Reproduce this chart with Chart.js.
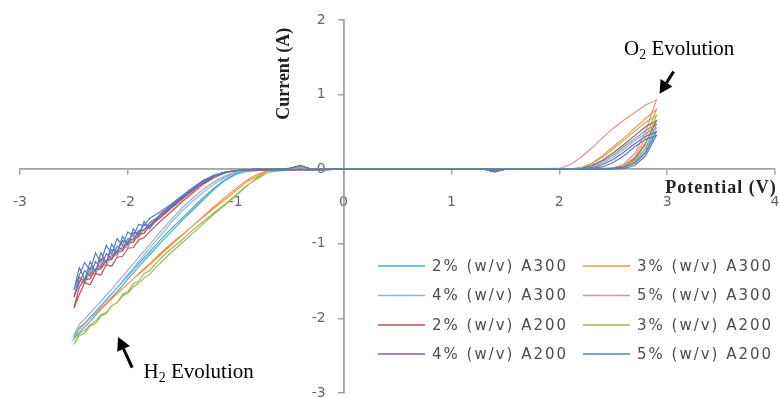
<!DOCTYPE html>
<html>
<head>
<meta charset="utf-8">
<script src="https://cdn.jsdelivr.net/npm/chart.js@4/dist/chart.umd.min.js"></script>
<style>
  html, body { margin: 0; padding: 0; background: #ffffff; }
  canvas { display: block; }
</style>
</head>
<body>
<canvas id="cv" width="779" height="398"></canvas>
<script>
// Potential sweep (V): 0 -> +2.9 (anodic), back down to -2.5 (cathodic), then return to 0
const sweepUp   = [0, 0.5, 1.0, 1.3, 1.4, 1.5, 2.0, 2.2, 2.3, 2.4, 2.5, 2.6, 2.7, 2.8, 2.9];
const sweepDown = [2.8, 2.7, 2.6, 2.5, 2.4, 2.3, 2.2, 2.1, 2.0, 1.5, 1.0, 0.5, 0, -0.3, -0.4, -0.5, -0.7,
                   -0.9, -1.0, -1.1, -1.2, -1.3, -1.4, -1.5, -1.6, -1.7, -1.8, -1.85, -1.9, -1.95, -2.0,
                   -2.05, -2.1, -2.15, -2.2, -2.25, -2.3, -2.35, -2.4, -2.45, -2.5];
const sweepBack = [-2.45, -2.4, -2.35, -2.3, -2.25, -2.2, -2.15, -2.1, -2.05, -2.0, -1.95, -1.9, -1.85, -1.8,
                   -1.7, -1.6, -1.5, -1.4, -1.3, -1.2, -1.1, -1.0, -0.9, -0.8, -0.7, -0.6, -0.5, -0.4, -0.3, 0];
const potential = [...sweepUp, ...sweepDown, ...sweepBack];

// Series names, in legend order
const seriesLabels = [
  '2% (w/v) A300', '3% (w/v) A300',
  '4% (w/v) A300', '5% (w/v) A300',
  '2% (w/v) A200', '3% (w/v) A200',
  '4% (w/v) A200', '5% (w/v) A200'
];

// Current (A) along the sweep, one array per electrolyte
const current2A300 = [
  0, 0, 0, 0, -0.03, 0, 0, 0, 0, 0, 0.01, 0.03, 0.1, 0.28, 0.6,
  0.52, 0.41, 0.3, 0.19, 0.1, 0.04, 0.01, 0, 0, 0, 0, 0, 0, -0.01, 0, -0.01, -0.01,
  -0.03, -0.07, -0.15, -0.27, -0.41, -0.55, -0.69, -0.84, -0.99, -1.15, -1.23, -1.31, -1.39, -1.47,
  -1.56, -1.64, -1.72, -1.8, -1.88, -1.96, -2.04, -2.11, -2.19, -2.27,
  -2.14, -2.07, -1.99, -1.91, -1.83, -1.75, -1.67, -1.59, -1.51, -1.43, -1.35, -1.27, -1.19, -1.11,
  -0.95, -0.8, -0.66, -0.52, -0.38, -0.25, -0.14, -0.06, -0.02, -0.01, 0, 0, 0.01, 0.04, 0, 0
];
const current3A300 = [
  0, 0, 0, 0, -0.03, 0, 0, 0, 0, 0, 0.01, 0.05, 0.16, 0.42, 0.8,
  0.68, 0.55, 0.42, 0.3, 0.18, 0.08, 0.02, 0, 0, 0, 0, 0, 0, -0.01, 0, -0.01, -0.02,
  -0.17, -0.29, -0.41, -0.52, -0.64, -0.76, -0.88, -1.0, -1.13, -1.27, -1.33, -1.4, -1.47, -1.54,
  -1.6, -1.67, -1.74, -1.81, -1.87, -1.94, -2.0, -2.07, -2.13, -2.25,
  -2.12, -2.06, -1.99, -1.93, -1.86, -1.8, -1.73, -1.67, -1.6, -1.54, -1.47, -1.41, -1.35, -1.28,
  -1.15, -1.02, -0.89, -0.76, -0.63, -0.5, -0.38, -0.26, -0.15, -0.07, -0.02, -0.01, 0, 0.03, 0, 0
];
const current4A300 = [
  0, 0, 0, 0, -0.03, 0, 0, 0, 0, 0, 0.01, 0.02, 0.08, 0.24, 0.55,
  0.48, 0.38, 0.27, 0.16, 0.08, 0.03, 0.01, 0, 0, 0, 0, 0, 0, -0.01, 0, -0.01, -0.01,
  -0.02, -0.05, -0.11, -0.2, -0.31, -0.43, -0.56, -0.72, -0.89, -1.06, -1.15, -1.24, -1.33, -1.41,
  -1.5, -1.59, -1.67, -1.76, -1.84, -1.92, -2.0, -2.07, -2.14, -2.22,
  -2.08, -2.01, -1.93, -1.85, -1.77, -1.69, -1.61, -1.52, -1.44, -1.35, -1.27, -1.18, -1.1, -1.01,
  -0.84, -0.68, -0.52, -0.39, -0.27, -0.17, -0.09, -0.04, -0.02, -0.01, 0, 0, 0.01, 0.04, 0, 0
];
const current5A300 = [
  0, 0, 0, 0, -0.03, 0, 0, 0, 0, 0.01, 0.02, 0.07, 0.21, 0.5, 0.93,
  0.86, 0.76, 0.66, 0.55, 0.42, 0.28, 0.16, 0.06, 0.01, 0, 0, 0, 0, -0.01, 0, -0.01, -0.01,
  -0.01, -0.02, -0.04, -0.1, -0.18, -0.29, -0.41, -0.53, -0.65, -0.78, -0.8, -0.92, -0.92, -1.05,
  -1.03, -1.16, -1.15, -1.29, -1.27, -1.41, -1.38, -1.53, -1.5, -1.7,
  -1.52, -1.47, -1.4, -1.35, -1.28, -1.23, -1.16, -1.11, -1.04, -0.99, -0.92, -0.87, -0.81, -0.75,
  -0.63, -0.51, -0.39, -0.28, -0.17, -0.1, -0.05, -0.02, -0.01, 0, 0, 0, 0, 0.03, 0, 0
];
const current2A200 = [
  0, 0, 0, 0, -0.04, 0, 0, 0, 0, 0, 0.01, 0.04, 0.14, 0.35, 0.65,
  0.57, 0.45, 0.33, 0.22, 0.12, 0.05, 0.01, 0, 0, 0, 0, 0, 0, -0.01, -0.01, -0.01, -0.01,
  -0.01, -0.02, -0.05, -0.11, -0.2, -0.32, -0.44, -0.57, -0.7, -0.84, -0.92, -0.95, -1.05, -1.06,
  -1.17, -1.18, -1.3, -1.28, -1.42, -1.4, -1.55, -1.52, -1.68, -1.86,
  -1.58, -1.48, -1.47, -1.34, -1.34, -1.22, -1.21, -1.1, -1.1, -0.98, -0.98, -0.87, -0.86, -0.76,
  -0.65, -0.52, -0.4, -0.29, -0.18, -0.1, -0.05, -0.02, -0.01, 0, 0, 0, 0.01, 0.04, 0, 0
];
const current3A200 = [
  0, 0, 0, 0, -0.03, 0, 0, 0, 0, 0, 0.01, 0.04, 0.12, 0.33, 0.72,
  0.63, 0.51, 0.39, 0.27, 0.16, 0.07, 0.02, 0, 0, 0, 0, 0, 0, -0.01, 0, -0.01, -0.04,
  -0.22, -0.35, -0.47, -0.58, -0.7, -0.82, -0.95, -1.07, -1.2, -1.36, -1.4, -1.5, -1.54, -1.64,
  -1.68, -1.79, -1.83, -1.93, -1.97, -2.07, -2.1, -2.2, -2.23, -2.35,
  -2.2, -2.16, -2.08, -2.04, -1.95, -1.92, -1.83, -1.79, -1.7, -1.66, -1.58, -1.53, -1.46, -1.41,
  -1.26, -1.12, -0.99, -0.86, -0.73, -0.6, -0.48, -0.36, -0.23, -0.11, -0.04, -0.01, 0, 0.04, 0, 0
];
const current4A200 = [
  0, 0, 0, 0, -0.03, 0, 0, 0, 0, 0, 0.01, 0.03, 0.08, 0.22, 0.5,
  0.44, 0.34, 0.23, 0.13, 0.06, 0.02, 0, 0, 0, 0, 0, 0, 0, -0.01, -0.01, -0.01, -0.01,
  -0.01, -0.02, -0.04, -0.09, -0.17, -0.28, -0.39, -0.51, -0.62, -0.72, -0.82, -0.82, -0.95, -0.93,
  -1.08, -1.03, -1.2, -1.13, -1.32, -1.24, -1.43, -1.36, -1.52, -1.72,
  -1.45, -1.5, -1.32, -1.36, -1.2, -1.24, -1.08, -1.1, -0.96, -0.98, -0.85, -0.86, -0.74, -0.76,
  -0.62, -0.5, -0.38, -0.27, -0.17, -0.09, -0.04, -0.02, -0.01, 0, 0, 0, 0.01, 0.05, 0, 0
];
const current5A200 = [
  0, 0, 0, 0, -0.03, 0, 0, 0, 0, 0, 0, 0.01, 0.05, 0.18, 0.45,
  0.4, 0.3, 0.18, 0.09, 0.03, 0.01, 0, 0, 0, 0, 0, 0, 0, -0.01, 0, -0.01, -0.01,
  -0.01, -0.02, -0.04, -0.08, -0.15, -0.25, -0.36, -0.47, -0.57, -0.66, -0.76, -0.74, -0.9, -0.84,
  -1.02, -0.93, -1.14, -1.02, -1.25, -1.12, -1.36, -1.25, -1.42, -1.62,
  -1.32, -1.48, -1.24, -1.38, -1.12, -1.26, -1.0, -1.14, -0.9, -1.02, -0.8, -0.9, -0.7, -0.8,
  -0.6, -0.49, -0.37, -0.26, -0.16, -0.09, -0.04, -0.02, -0.01, 0, 0, 0, 0.01, 0.05, 0, 0
];

const currents = [current2A300, current3A300, current4A300, current5A300,
                  current2A200, current3A200, current4A200, current5A200];
const lineColors = ['#4BACC6', '#F79646', '#95B3D7', '#D99694',
                    '#C0504D', '#9BBB59', '#8064A2', '#4F81BD'];

const datasets = seriesLabels.map((label, i) => ({
  label,
  data: potential.map((v, k) => ({ x: v, y: currents[i][k] })),
  borderColor: lineColors[i],
  backgroundColor: lineColors[i],
  borderWidth: 1.2,
  pointRadius: 0,
  showLine: true,
  tension: 0,
  order: seriesLabels.length - 1 - i
}));

// Two-column legend in the lower right
const legendGrid = {
  id: 'legendGrid',
  afterDraw(chart) {
    const ctx = chart.ctx;
    const colX = [378, 583];
    const rowY = [266, 295.5, 325, 354];
    ctx.save();
    ctx.font = '15px "DejaVu Sans"';
    ctx.textBaseline = 'middle';
    ctx.textAlign = 'left';
    ctx.fillStyle = '#4d4d4d';
    chart.data.datasets.forEach((ds, i) => {
      const x = colX[i % 2];
      const y = rowY[Math.floor(i / 2)];
      ctx.strokeStyle = ds.borderColor;
      ctx.lineWidth = 1.5;
      ctx.beginPath();
      ctx.moveTo(x, y);
      ctx.lineTo(x + 47, y);
      ctx.stroke();
      ctx.letterSpacing = '2px';
      ctx.fillText(ds.label, x + 54, y + 1);
      ctx.letterSpacing = '0px';
    });
    ctx.restore();
  }
};

// Axis titles and the gas-evolution callouts
function drawArrow(ctx, x1, y1, x2, y2) {
  const ang = Math.atan2(y2 - y1, x2 - x1);
  const head = 13, half = 7;
  const bx = x2 - head * Math.cos(ang), by = y2 - head * Math.sin(ang);
  ctx.lineWidth = 3;
  ctx.beginPath();
  ctx.moveTo(x1, y1);
  ctx.lineTo(bx, by);
  ctx.stroke();
  ctx.beginPath();
  ctx.moveTo(x2, y2);
  ctx.lineTo(bx + half * Math.sin(ang), by - half * Math.cos(ang));
  ctx.lineTo(bx - half * Math.sin(ang), by + half * Math.cos(ang));
  ctx.closePath();
  ctx.fill();
}
function drawSubLabel(ctx, x, y, main, sub, rest) {
  ctx.font = '21px "Liberation Serif"';
  ctx.fillText(main, x, y);
  let w = ctx.measureText(main).width;
  ctx.font = '14px "Liberation Serif"';
  ctx.fillText(sub, x + w, y + 4);
  w += ctx.measureText(sub).width;
  ctx.font = '21px "Liberation Serif"';
  ctx.fillText(rest, x + w, y);
}
const annotations = {
  id: 'annotations',
  afterDraw(chart) {
    const ctx = chart.ctx;
    const xs = chart.scales.x, ys = chart.scales.y;
    const px = v => xs.getPixelForValue(v);
    const py = v => ys.getPixelForValue(v);
    ctx.save();
    ctx.fillStyle = '#222';
    ctx.textBaseline = 'middle';
    ctx.textAlign = 'center';
    ctx.font = 'bold 18px "Liberation Serif"';
    // y title, reading bottom to top
    ctx.save();
    ctx.translate(px(-0.55), py(1.28));
    ctx.rotate(-Math.PI / 2);
    ctx.fillText('Current (A)', 0, 0);
    ctx.restore();
    ctx.letterSpacing = '1px';
    ctx.fillText('Potential (V)', px(3.5), py(-0.25));
    ctx.letterSpacing = '0px';

    ctx.fillStyle = '#000';
    ctx.strokeStyle = '#000';
    ctx.textAlign = 'left';
    ctx.textBaseline = 'alphabetic';
    drawSubLabel(ctx, px(2.6), py(1.53), 'O', '2', ' Evolution');
    drawSubLabel(ctx, px(-1.855), py(-2.8), 'H', '2', ' Evolution');
    drawArrow(ctx, px(3.06), py(1.31), px(2.93), py(1.01));
    drawArrow(ctx, px(-1.96), py(-2.66), px(-2.09), py(-2.25));
    ctx.restore();
  }
};

// Axes cross at the origin; their labels must not shrink the plotting area
function noEdgePadding(scale) {
  scale.paddingLeft = 0;
  scale.paddingRight = 0;
  scale.paddingTop = 0;
  scale.paddingBottom = 0;
}

const axisGrey = '#a3a3a3';
new Chart(document.getElementById('cv'), {
  type: 'scatter',
  data: { datasets },
  plugins: [legendGrid, annotations],
  options: {
    responsive: false,
    animation: false,
    layout: { padding: { left: 20, right: 4, top: 20, bottom: 5 } },
    plugins: { legend: { display: false }, tooltip: { enabled: false } },
    scales: {
      x: {
        type: 'linear',
        min: -3, max: 4,
        position: { y: 0 },
        afterFit: noEdgePadding,
        ticks: { stepSize: 1, color: '#666', font: { family: 'DejaVu Sans', size: 14 }, padding: 20,
                 maxRotation: 0, autoSkip: false },
        grid: { drawOnChartArea: false, drawTicks: true, tickLength: 5, color: axisGrey, lineWidth: 1.5 },
        border: { display: true, color: axisGrey, width: 1.8 }
      },
      y: {
        type: 'linear',
        min: -3, max: 2,
        position: { x: 0 },
        afterFit: noEdgePadding,
        ticks: { stepSize: 1, color: '#666', font: { family: 'DejaVu Sans', size: 14 },
                 callback: v => v + '    ' },
        grid: { drawOnChartArea: false, drawTicks: true, tickLength: 5, color: axisGrey, lineWidth: 1.5 },
        border: { display: true, color: axisGrey, width: 1.8 }
      }
    }
  }
});
</script>
</body>
</html>
